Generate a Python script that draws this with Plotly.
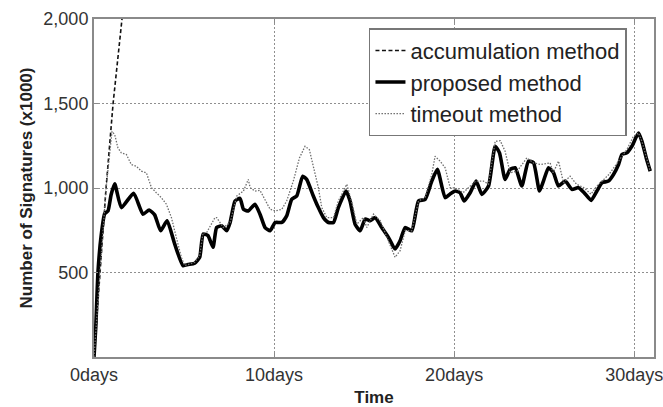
import plotly.graph_objects as go

# Time axis in days, signature counts in thousands
accum_days = [0, 0.33, 0.67, 1.06, 1.56, 2.0]
accum_vals = [0, 500, 1000, 1500, 2000, 2450]

proposed_days = [0, 0.1, 0.22, 0.4, 0.59, 0.78, 0.95, 1.15, 1.52, 2.2, 2.72, 3.06, 3.37, 3.7, 4.06,
                 4.48, 4.94, 5.22, 5.59, 5.87, 6.06, 6.33, 6.61, 6.81, 7.09, 7.37, 7.56, 7.83, 8.11,
                 8.3, 8.57, 8.94, 9.22, 9.5, 9.78, 10.06, 10.43, 10.7, 10.98, 11.26, 11.59, 11.81,
                 12.18, 12.46, 12.74, 13.02, 13.3, 13.57, 14.0, 14.22, 14.5, 14.78, 15.06, 15.33,
                 15.61, 15.98, 16.35, 16.72, 17.0, 17.28, 17.65, 18.02, 18.39, 18.76, 19.07, 19.5,
                 19.78, 20.06, 20.33, 20.56, 20.89, 21.22, 21.54, 21.91, 22.28, 22.52, 22.83, 23.11,
                 23.39, 23.76, 24.13, 24.41, 24.74, 24.96, 25.24, 25.52, 25.79, 26.17, 26.54, 26.91,
                 27.22, 27.61, 27.93, 28.21, 28.57, 28.85, 29.13, 29.32, 29.59, 29.87, 30.24, 30.43,
                 30.67, 30.89]
proposed_vals = [0, 180, 500, 720, 847, 865, 960, 1025, 884, 969, 845, 870, 841, 747, 806,
                 669, 541, 547, 555, 590, 728, 718, 649, 766, 776, 747, 796, 923, 939,
                 874, 864, 904, 845, 766, 747, 796, 796, 835, 933, 953, 1070, 1051,
                 953, 884, 825, 796, 796, 884, 982, 923, 786, 747, 816, 806,
                 825, 766, 708, 639, 688, 766, 747, 923, 933, 1041, 1110, 943,
                 965, 982, 972, 923, 972, 1041, 962, 1012, 1247, 1208, 1051, 1110,
                 1120, 1012, 1159, 1149, 982, 1041, 1120, 1090, 1012, 1041, 992, 1002,
                 972, 927, 982, 1031, 1041, 1080, 1139, 1198, 1208, 1247, 1325, 1276,
                 1178, 1100]

timeout_days = [0, 0.33, 0.67, 1.0, 1.15, 1.33, 1.52, 1.8, 2.07, 2.35, 2.63, 2.91, 3.19, 3.46,
                3.74, 4.02, 4.3, 4.57, 4.85, 5.04, 5.22, 5.59, 5.87, 6.06, 6.26, 6.72, 6.81, 7.18,
                7.56, 7.93, 8.3, 8.57, 8.67, 8.94, 9.22, 9.5, 9.78, 10.06, 10.43, 10.7, 11.07,
                11.41, 11.72, 11.96, 12.18, 12.46, 12.65, 12.93, 13.3, 13.57, 14.04, 14.3, 14.6,
                14.96, 15.15, 15.52, 15.9, 16.35, 16.72, 17.0, 17.28, 17.65, 18.02, 18.39, 18.76,
                18.94, 19.22, 19.5, 19.78, 20.06, 20.5, 20.9, 21.2, 21.63, 21.91, 22.28, 22.56,
                22.83, 23.11, 23.5, 24.04, 24.4, 24.78, 25.33, 25.5, 25.8, 26.07, 26.44, 26.8,
                27.2, 27.6, 27.93, 28.3, 28.6, 29.13, 29.59, 29.96, 30.24, 30.43, 30.67, 30.89]
timeout_vals = [0, 500, 1000, 1335, 1316, 1237, 1208, 1198, 1139, 1129, 1100, 1090, 1002, 972,
                943, 904, 825, 708, 590, 541, 547, 560, 600, 735, 737, 825, 825, 766,
                796, 953, 982, 1051, 1002, 982, 986, 933, 874, 864, 874, 923, 1041,
                1178, 1247, 1227, 1120, 1002, 884, 825, 825, 923, 1022, 923, 786,
                825, 766, 845, 806, 688, 590, 629, 747, 747, 923, 943, 1080,
                1188, 1159, 1120, 1002, 1000, 972, 1012, 1041, 1041, 1022, 1276, 1280,
                1218, 1090, 1100, 1178, 1149, 1139, 1149, 1090, 1159, 1031, 1070, 1022,
                1002, 963, 1012, 1051, 1080, 1159, 1227, 1306, 1325, 1276, 1178, 1100]

x_tickvals = [0, 10, 20, 30]
x_ticktext = ["0days", "10days", "20days", "30days"]
y_tickvals = [500, 1000, 1500, 2000]

fig = go.Figure()
fig.add_trace(go.Scatter(x=accum_days, y=accum_vals, mode="lines", name="accumulation method",
                         line=dict(color="#111111", width=1.6, dash="4px,2.5px")))
fig.add_trace(go.Scatter(x=proposed_days, y=proposed_vals, mode="lines", name="proposed method",
                         line=dict(color="#000000", width=3.6, shape="spline", smoothing=0.5)))
fig.add_trace(go.Scatter(x=timeout_days, y=timeout_vals, mode="lines", name="timeout method",
                         line=dict(color="#6e6e6e", width=1.3, dash="1.5px,1.5px")))

axis_common = dict(showline=True, linecolor="#8a8a8a", linewidth=2, mirror="all",
                   ticks="inside", ticklen=4, tickcolor="#8a8a8a", automargin=False,
                   ticklabeloverflow="allow",
                   showgrid=True, gridcolor="#8f8f8f", griddash="2px,2px", gridwidth=1,
                   zeroline=False, tickfont=dict(family="Liberation Sans", size=18, color="#333333"))

fig.update_xaxes(range=[0, 31.1], tickvals=x_tickvals, ticktext=x_ticktext,
                 title=dict(text="<b>Time</b>", font=dict(family="Liberation Sans", size=17, color="#222222"),
                            standoff=12),
                 **axis_common)
fig.update_yaxes(range=[0, 2000], tickvals=y_tickvals, tickformat=",d",
                 title=dict(text="<b>Number of Signatures (x1000)</b>",
                            font=dict(family="Liberation Sans", size=17, color="#222222"), standoff=6),
                 **axis_common)

fig.update_layout(
    width=663, height=407,
    margin=dict(l=94, r=9, t=19, b=50),
    plot_bgcolor="white", paper_bgcolor="white",
    showlegend=True,
    legend=dict(x=0.491, y=0.973, xanchor="left", yanchor="top",
                bgcolor="white", bordercolor="#777777", borderwidth=1.5,
                font=dict(family="Liberation Sans", size=22, color="#222222"),
                tracegroupgap=0, itemwidth=30),
)

fig.write_html("out.html")
